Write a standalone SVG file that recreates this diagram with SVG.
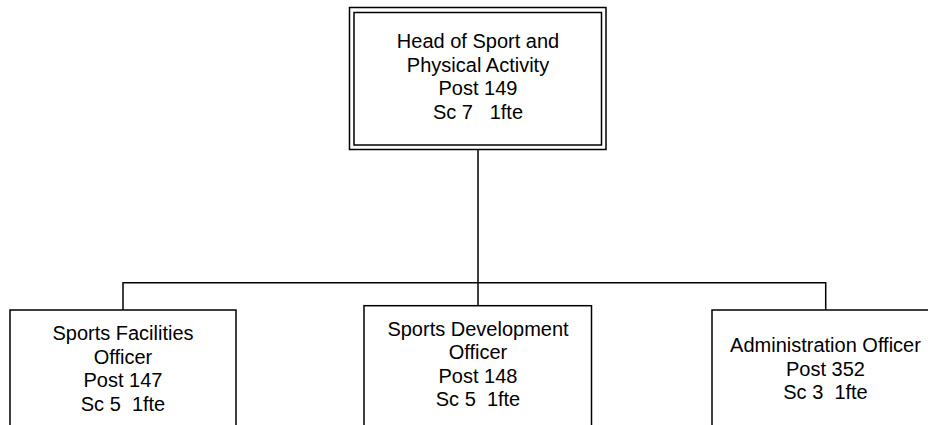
<svg xmlns="http://www.w3.org/2000/svg" width="928" height="425" viewBox="0 0 928 425">
  <style>
    .box { fill: #ffffff; stroke: #000000; stroke-width: 1.5; }
    .link { fill: none; stroke: #000000; stroke-width: 1.5; }
    text { font-family: "Liberation Sans", Arial, sans-serif; font-size: 20px; fill: #000000; text-anchor: middle; white-space: pre; }
  </style>
  <rect width="928" height="425" fill="#ffffff"/>

  <!-- reporting lines -->
  <g id="connectors">
    <path class="link" d="M478,149.5 V282.7"/>
    <path class="link" d="M123,310 V282.7 H825.7 V310"/>
    <path class="link" d="M478,282.7 V305.7"/>
  </g>

  <!-- head of department, double border -->
  <g id="head">
    <rect class="box" x="349.5" y="7.5" width="256.5" height="142"/>
    <rect class="box" x="354" y="12.5" width="247.5" height="132.5"/>
    <text x="478" y="48.3">Head of Sport and</text>
    <text x="478" y="71.8">Physical Activity</text>
    <text x="478" y="95.3">Post 149</text>
    <text x="478" y="118.8">Sc 7   1fte</text>
  </g>

  <g id="facilities">
    <rect class="box" x="10" y="310" width="226" height="130"/>
    <text x="123" y="340">Sports Facilities</text>
    <text x="123" y="363.5">Officer</text>
    <text x="123" y="387">Post 147</text>
    <text x="123" y="410.5">Sc 5  1fte</text>
  </g>

  <g id="development">
    <rect class="box" x="364" y="305.7" width="227.5" height="135"/>
    <text x="478" y="335.5">Sports Development</text>
    <text x="478" y="359">Officer</text>
    <text x="478" y="382.5">Post 148</text>
    <text x="478" y="406">Sc 5  1fte</text>
  </g>

  <g id="administration">
    <rect class="box" x="712" y="310" width="227" height="130"/>
    <text x="825.5" y="352">Administration Officer</text>
    <text x="825.5" y="375.5">Post 352</text>
    <text x="825.5" y="399">Sc 3  1fte</text>
  </g>
</svg>
